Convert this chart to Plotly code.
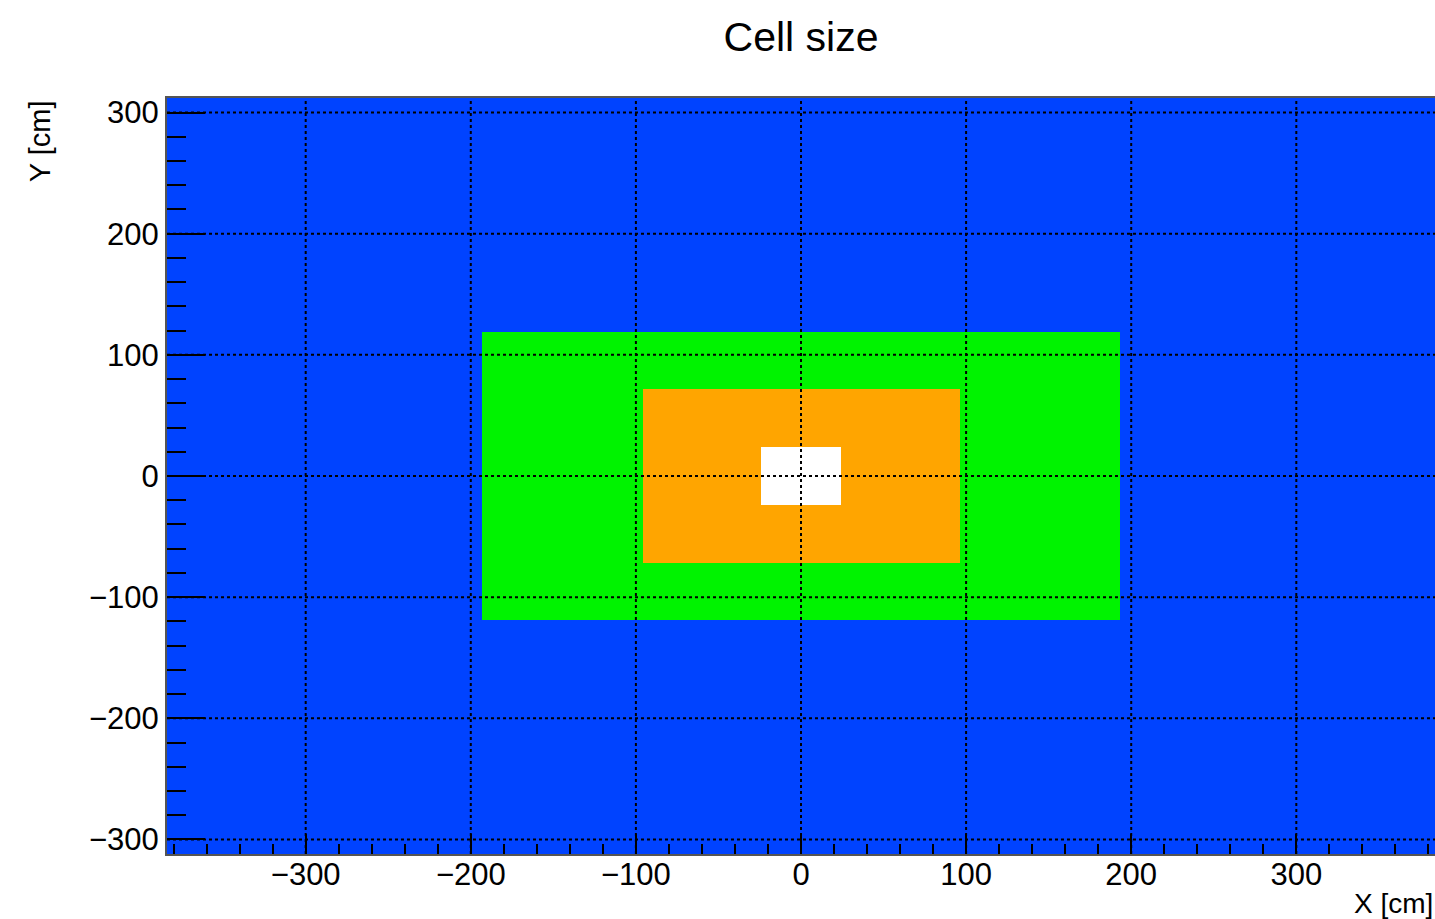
import plotly.graph_objects as go

# ---- data (cm) ----
x_range = [-384, 384]
y_range = [-312, 312]
# region half-sizes (x, y) and their cell size (cm); None = beam hole
region_names = ["hole", "inner", "middle", "outer"]
region_half_x = [24, 96, 193, 384]
region_half_y = [24, 72, 119, 312]
region_cell = [None, 4.04, 6.06, 12.12]
region_color = [None, "#ffa500", "#00f300", "#0043ff"]

x_ticks = [-300, -200, -100, 0, 100, 200, 300]
y_ticks = [-300, -200, -100, 0, 100, 200, 300]

def fmt(v):
    return ("\u2212" + str(-v)) if v < 0 else str(v)

# ---- build bin edges from region boundaries ----
x_edges = sorted(set([-h for h in region_half_x] + region_half_x))
y_edges = sorted(set([-h for h in region_half_y] + region_half_y))

def region_index(x, y):
    for i, (hx, hy) in enumerate(zip(region_half_x, region_half_y)):
        if abs(x) < hx and abs(y) < hy:
            return i
    return len(region_half_x) - 1

z = []
for j in range(len(y_edges) - 1):
    yc = 0.5 * (y_edges[j] + y_edges[j + 1])
    row = []
    for i in range(len(x_edges) - 1):
        xc = 0.5 * (x_edges[i] + x_edges[i + 1])
        k = region_index(xc, yc)
        row.append(region_cell[k])
    z.append(row)

# discrete colorscale for cell sizes
sizes = [c for c in region_cell if c is not None]
cols = [c for c in region_color if c is not None]
zmin, zmax = min(sizes), max(sizes)
cs = []
n = len(sizes)
for i in range(n):
    lo = 0 if i == 0 else (0.5 * (sizes[i - 1] + sizes[i]) - zmin) / (zmax - zmin)
    hi = 1 if i == n - 1 else (0.5 * (sizes[i] + sizes[i + 1]) - zmin) / (zmax - zmin)
    cs.append([lo, cols[i]])
    cs.append([hi, cols[i]])

fig = go.Figure()
fig.add_trace(go.Heatmap(
    x=x_edges, y=y_edges, z=z,
    colorscale=cs, zmin=zmin, zmax=zmax, showscale=False,
    hoverongaps=False,
))

FONT = "Liberation Sans, Arial, Helvetica, sans-serif"

# dotted grid on top of the heatmap
shapes = []
for xv in x_ticks:
    shapes.append(dict(type="line", xref="x", yref="paper", x0=xv, x1=xv, y0=0, y1=1,
                       line=dict(color="black", width=2, dash="dot"), layer="above"))
for yv in y_ticks:
    shapes.append(dict(type="line", xref="paper", yref="y", x0=0, x1=1, y0=yv, y1=yv,
                       line=dict(color="black", width=2, dash="dot"), layer="above"))

W, H = 1435, 919
fig.update_layout(
    width=W, height=H,
    margin=dict(l=167, r=0, t=98, b=65, autoexpand=False),
    paper_bgcolor="white", plot_bgcolor="white",
    font=dict(family=FONT, color="black", size=29),
    title=dict(text="Cell size", x=801 / W, xanchor="center", y=1 - 37 / H, yanchor="middle",
               font=dict(size=41, family=FONT, color="black")),
    shapes=shapes,
    showlegend=False,
    annotations=[
        dict(text="X [cm]", xref="paper", yref="paper", x=1.0, y=-0.066,
             xanchor="right", yanchor="middle", showarrow=False,
             font=dict(size=28, family=FONT)),
        dict(text="Y [cm]", xref="paper", yref="paper", x=-0.1, y=1.0,
             xanchor="center", yanchor="top", textangle=-90, showarrow=False,
             font=dict(size=29, family=FONT)),
    ],
)

fig.update_xaxes(
    range=x_range, tickvals=x_ticks, ticktext=[fmt(v) for v in x_ticks],
    ticks="inside", ticklen=20, tickwidth=2, tickcolor="black",
    minor=dict(ticks="inside", ticklen=10, tickwidth=2, tickcolor="black", dtick=20, tick0=0, showgrid=False),
    showgrid=False, zeroline=False, showline=True, linecolor="#555555", linewidth=2,
    mirror=True, layer="above traces", tickfont=dict(size=31, family=FONT),
    ticklabelstandoff=-8,
)
fig.update_yaxes(
    range=y_range, tickvals=y_ticks, ticktext=[fmt(v) for v in y_ticks],
    ticks="inside", ticklen=38, tickwidth=2, tickcolor="black",
    minor=dict(ticks="inside", ticklen=19, tickwidth=2, tickcolor="black", dtick=20, tick0=0, showgrid=False),
    showgrid=False, zeroline=False, showline=True, linecolor="#555555", linewidth=2,
    mirror=True, layer="above traces", tickfont=dict(size=31, family=FONT),
    ticklabelstandoff=0,
)

fig.write_html(
    "out.html",
    config={"displayModeBar": False},
    post_script="document.body.style.margin='0';document.body.style.overflow='hidden';"
                "document.documentElement.style.overflow='hidden';",
)
